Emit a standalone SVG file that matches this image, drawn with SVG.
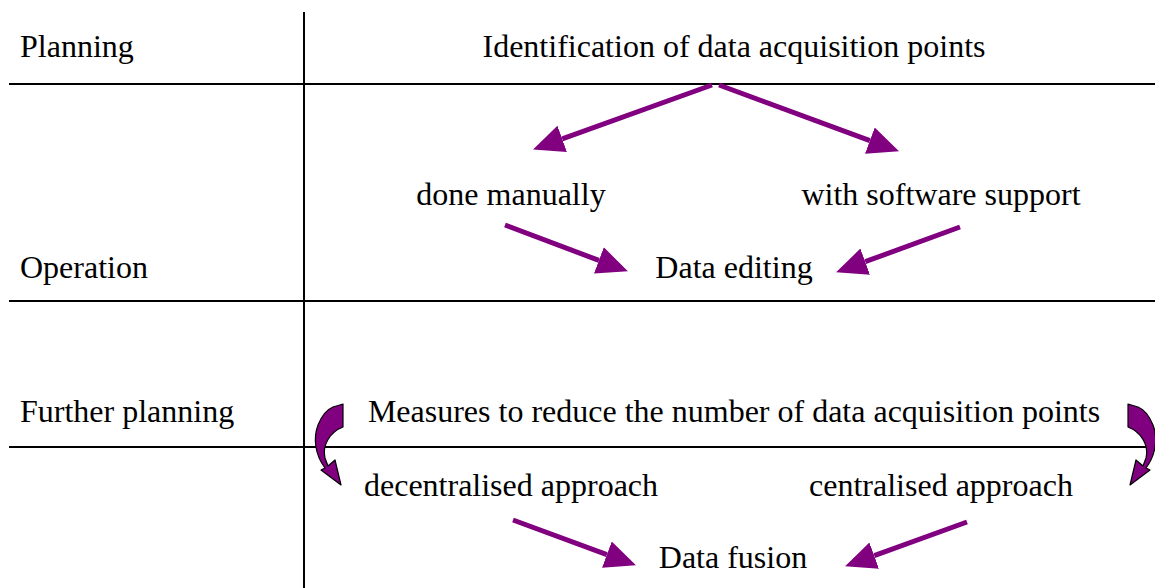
<svg xmlns="http://www.w3.org/2000/svg" xmlns:xlink="http://www.w3.org/1999/xlink" width="1155" height="588" viewBox="0 0 1155 588">
<style>
.grid{stroke:#000;stroke-width:2;fill:none}
.t{font-family:"Liberation Serif","Times New Roman",serif;font-size:32px;fill:#000}
.m{text-anchor:middle}
.arr{stroke:#800080;stroke-width:5;fill:none}
.curve{fill:#800080;stroke:#000;stroke-width:1.2;stroke-linejoin:round}
</style>
<defs>
<marker id="ah" markerUnits="userSpaceOnUse" markerWidth="32" markerHeight="30" refX="0" refY="14" orient="auto" viewBox="0 0 32 28">
<path d="M0,0 L31,14 L0,28 Z" fill="#800080"/>
</marker>
<path id="curv" d="M343,404 L343,427 C330,432 322,445 325,458 L328,466 L335,460 L341,485 L321,470 L325,468 C315,455 313,438 318,425 C322,415 328,409 333,407 Z"/>
</defs>
<g id="grid">
<line class="grid" x1="304" y1="12" x2="304" y2="588"/>
<line class="grid" x1="9" y1="84" x2="1155" y2="84"/>
<line class="grid" x1="9" y1="301" x2="1155" y2="301"/>
<line class="grid" x1="9" y1="447" x2="1155" y2="447"/>
</g>
<g id="row-labels">
<text class="t" x="20" y="57">Planning</text>
<text class="t" x="20" y="278">Operation</text>
<text class="t" x="20" y="422">Further planning</text>
</g>
<g id="n-ident"><text class="t m" x="734" y="57">Identification of data acquisition points</text></g>
<g id="n-manual"><text class="t m" x="511" y="205">done manually</text></g>
<g id="n-software"><text class="t m" x="941" y="205">with software support</text></g>
<g id="n-editing"><text class="t m" x="734" y="278">Data editing</text></g>
<g id="n-measures"><text class="t m" x="734" y="422">Measures to reduce the number of data acquisition points</text></g>
<g id="n-decentral"><text class="t m" x="511" y="496">decentralised approach</text></g>
<g id="n-central"><text class="t m" x="941" y="496">centralised approach</text></g>
<g id="n-fusion"><text class="t m" x="733" y="568">Data fusion</text></g>
<g id="connectors">
<line class="arr" x1="712" y1="85" x2="562.2" y2="138.9" marker-end="url(#ah)"/>
<line class="arr" x1="719" y1="85" x2="869.9" y2="140.6" marker-end="url(#ah)"/>
<line class="arr" x1="505" y1="225" x2="598.9" y2="260.4" marker-end="url(#ah)"/>
<line class="arr" x1="960" y1="227" x2="865.2" y2="261.7" marker-end="url(#ah)"/>
<line class="arr" x1="513" y1="520" x2="606.9" y2="554.6" marker-end="url(#ah)"/>
<line class="arr" x1="967" y1="522" x2="874.2" y2="555.7" marker-end="url(#ah)"/>
<use class="curve" xlink:href="#curv"/>
<use class="curve" xlink:href="#curv" transform="translate(1471,0) scale(-1,1)"/>
</g>
</svg>
